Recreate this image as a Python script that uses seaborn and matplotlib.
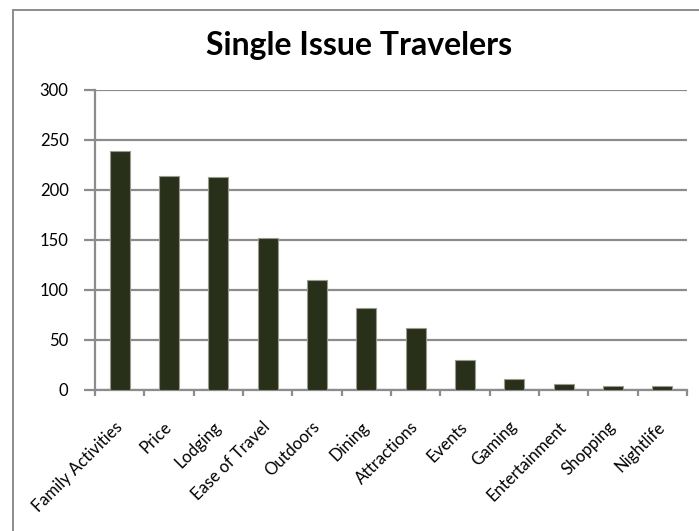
import matplotlib
matplotlib.use("Agg")
import matplotlib.pyplot as plt
from matplotlib.patches import Rectangle
import seaborn as sns
import pandas as pd

categories = ["Family Activities", "Price", "Lodging", "Ease of Travel", "Outdoors",
              "Dining", "Attractions", "Events", "Gaming", "Entertainment",
              "Shopping", "Nightlife"]
travelers = [239, 214, 213, 152, 110, 82, 62, 30, 11, 6, 4, 4]
y_ticks = [0, 50, 100, 150, 200, 250, 300]

df = pd.DataFrame({"issue": categories, "count": travelers})

sns.set_theme(style="white")
plt.rcParams["font.family"] = ["Lato", "DejaVu Sans"]

W, H = 699, 531
fig = plt.figure(figsize=(W / 100, H / 100), dpi=100)
fig.patch.set_facecolor("white")

# chart-area frame
fig.add_artist(Rectangle((12.5 / W, -0.05), 1.2, (H - 9.5) / H + 0.05,
                         transform=fig.transFigure, fill=False,
                         edgecolor="#8c8c8c", linewidth=1.4, clip_on=False))

ax = fig.add_axes([95 / W, 1 - 389.5 / H, (687 - 95) / W, (389.5 - 89.5) / H])
grid_col = "#8c8c8c"

sns.barplot(data=df, x="issue", y="count", ax=ax, color="#29301a",
            width=0.41, saturation=1, edgecolor="#9a9a90", linewidth=0.8,
            zorder=3)

ax.set_xlim(-0.5, len(categories) - 0.5)
ax.set_ylim(0, 300)
ax.set_yticks(y_ticks)
ax.set_yticklabels([str(v) for v in y_ticks], fontsize=12, color="black")
ax.yaxis.grid(True, color=grid_col, linewidth=1.6, zorder=0)
ax.xaxis.grid(False)
ax.set_axisbelow(True)

ax.set_xticks(range(len(categories)))
ax.set_xticklabels(categories, fontsize=12, rotation=45, ha="right",
                   va="center", rotation_mode="anchor", color="black")
ax.set_xticks([i - 0.5 for i in range(len(categories) + 1)], minor=True)
ax.tick_params(axis="x", which="major", length=0, pad=25)
ax.tick_params(axis="x", which="minor", length=4, width=1.6, color=grid_col,
               direction="out", bottom=True)
ax.tick_params(axis="y", length=8, width=1.6, color=grid_col, pad=11,
               direction="out", left=True)
ax.set_xlabel("")
ax.set_ylabel("")

for side in ["top", "right"]:
    ax.spines[side].set_visible(False)
for side in ["left", "bottom"]:
    ax.spines[side].set_color(grid_col)
    ax.spines[side].set_linewidth(1.6)

fig.text(359 / W, 1 - 46 / H, "Single Issue Travelers", ha="center",
         va="center", fontsize=23, fontweight="bold", color="black")

fig.savefig("out.png", dpi=100, facecolor="white")
